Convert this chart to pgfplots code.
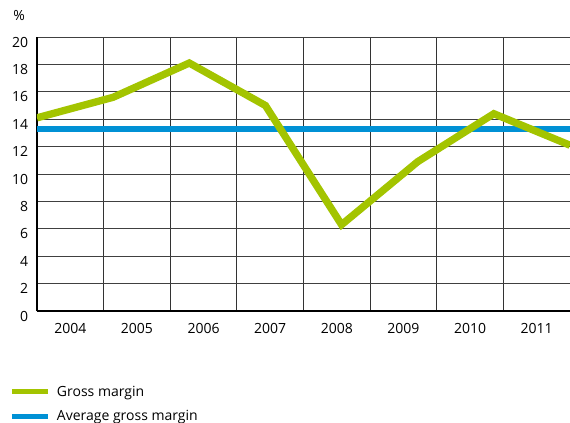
\documentclass[border=0pt]{standalone}
\usepackage{pgfplots}
\pgfplotsset{compat=1.18}
\usepackage{fontspec}
\setmainfont{Open Sans}
\definecolor{gmgreen}{RGB}{163,196,0}
\definecolor{avgblue}{RGB}{0,145,213}
\begin{document}
\fontsize{10.5pt}{12.6pt}\selectfont
\begin{tikzpicture}
\begin{axis}[
  scale only axis,
  width=399.75pt, height=205.5pt,
  xmin=0, xmax=8, ymin=0, ymax=20,
  axis lines=left,
  axis line style={-, black, line width=0.9pt},
  xtick={0.5,1.5,2.5,3.5,4.5,5.5,6.5,7.5},
  xticklabels={2004,2005,2006,2007,2008,2009,2010,2011},
  minor xtick={1,2,3,4,5,6,7},
  xminorgrids=true,
  ytick={0,2,4,6,8,10,12,14,16,18,20},
  ymajorgrids=true,
  major tick length=0pt, minor tick length=0pt,
  grid style={black!75, line width=0.7pt},
  minor grid style={black!80, line width=0.7pt},
  xticklabel style={anchor=base, inner sep=0pt, yshift=-16.5pt},
  yticklabel style={anchor=base east, inner sep=0pt, xshift=-6.5pt, yshift=-7.5pt},
  /pgf/number format/assume math mode=true,
  legend style={draw=none, fill=none, at={(-0.0525,-0.262)}, anchor=north west,
    cells={anchor=west}, row sep=5pt, inner sep=0pt, font=\fontsize{10.5pt}{12.6pt}\selectfont,
    nodes={inner xsep=5pt}},
  legend image code/.code={\draw[#1, line width=3.75pt] (0pt,0pt) -- (27pt,0pt);},
  reverse legend,
]
\addplot[avgblue, line width=4.2pt] coordinates {(0,13.3) (8,13.3)};
\addlegendentry{Average gross margin}
\addplot[gmgreen, line width=5.5pt, line join=miter] coordinates {
  (0,14.1) (1.142857,15.6) (2.285714,18.1) (3.428571,15.0)
  (4.571429,6.3) (5.714286,10.9) (6.857143,14.4) (8,12.1)};
\addlegendentry{Gross margin}
\coordinate (O) at (rel axis cs:0,0);
\coordinate (T) at (rel axis cs:1,1);
\coordinate (L) at (rel axis cs:0,1);
\end{axis}
\node[anchor=base west, inner sep=0pt] at ([xshift=-18pt, yshift=12.75pt]L) {\%};
\pgfresetboundingbox
\path ([xshift=-27.75pt, yshift=-83.25pt]O) rectangle ([yshift=27.75pt]T);
\end{tikzpicture}
\end{document}
